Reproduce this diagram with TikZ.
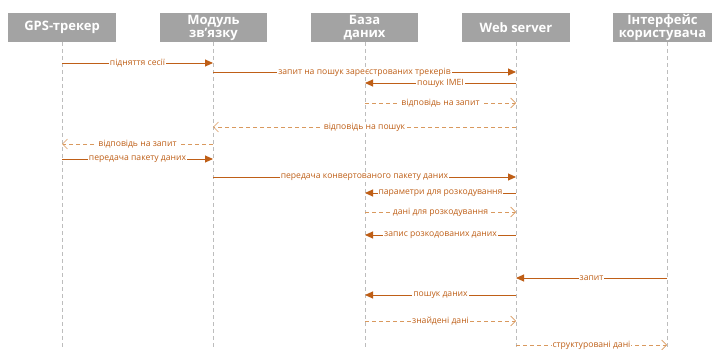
\documentclass[tikz,border=0pt]{standalone}
\usepackage{fontspec}
\setmainfont{Open Sans}
\usetikzlibrary{arrows.meta}
\definecolor{hdr}{HTML}{A3A3A3}
\definecolor{msgc}{HTML}{BF5F17}
\definecolor{retc}{HTML}{D9995E}
\definecolor{lifec}{HTML}{BDBDBD}
\tikzset{
  x=1pt, y=-1pt,
  head/.style={fill=hdr, text=white, font=\bfseries\fontsize{13}{13}\selectfont,
    minimum height=29pt, inner sep=0pt, align=center},
  lifeline/.style={draw=lifec, line width=0.6pt, dash pattern=on 4pt off 3pt},
  call/.style={draw=msgc, line width=0.9pt, -{Triangle[length=8pt,width=7pt]}},
  reply/.style={draw=retc, line width=0.7pt, dash pattern=on 4pt off 3pt,
    -{Straight Barb[length=5pt,width=10pt,line width=0.6pt]}},
  lbl/.style={fill=white, text=msgc, font=\fontsize{8.6}{9}\selectfont,
    inner xsep=1pt, inner ysep=0.5pt},
}
% message between two lifelines at height y
\newcommand{\msgline}[5]{\draw[#5] (#1 |- 0,#3) -- node[lbl]{#4} (#2 |- 0,#3);}
\begin{document}
\begin{tikzpicture}
\useasboundingbox (0,0) rectangle (712,350);
\clip (0,0) rectangle (712,350);
\fill[white] (0,0) rectangle (712,350);

% participants
\node[head, minimum width=108pt] (gps) at (62,27.5) {GPS-трекер};
\node[head, minimum width=107pt] (mod) at (213.5,27.5) {Модуль\\зв'язку};
\node[head, minimum width=107pt] (db) at (364.5,27.5) {База\\даних};
\node[head, minimum width=108pt] (web) at (516,27.5) {Web server};
\node[head, minimum width=100pt] (ui) at (662.5,27.5) {Інтерфейс\\користувача};

% lifelines
\coordinate (gpsL) at (62,350);
\coordinate (modL) at (213,350);
\coordinate (dbL) at (365,350);
\coordinate (webL) at (516,350);
\coordinate (uiL) at (667,350);
\draw[lifeline] (gps.south) -- (gpsL);
\draw[lifeline] (mod.south -| modL) -- (modL);
\draw[lifeline] (db.south -| dbL) -- (dbL);
\draw[lifeline] (web.south) -- (webL);
\draw[lifeline] (ui.south -| uiL) -- (uiL);

% messages
\msgline{gpsL}{modL}{63}{підняття сесії}{call}
\msgline{modL}{webL}{72}{запит на пошук зареєстрованих трекерів}{call}
\msgline{webL}{dbL}{83}{пошук IMEI}{call}
\msgline{dbL}{webL}{103}{відповідь на запит}{reply}
\msgline{webL}{modL}{127}{відповідь на пошук}{reply}
\msgline{modL}{gpsL}{144}{відповідь на запит}{reply}
\msgline{gpsL}{modL}{159}{передача пакету даних}{call}
\msgline{modL}{webL}{177}{передача конвертованого пакету даних}{call}
\msgline{webL}{dbL}{193}{параметри для розкодування}{call}
\msgline{dbL}{webL}{212}{дані для розкодування}{reply}
\msgline{webL}{dbL}{235}{запис розкодованих даних}{call}
\msgline{uiL}{webL}{278}{запит}{call}
\msgline{webL}{dbL}{295}{пошук даних}{call}
\msgline{dbL}{webL}{321}{знайдені дані}{reply}
\msgline{webL}{uiL}{345}{структуровані дані}{reply}
\end{tikzpicture}
\end{document}
